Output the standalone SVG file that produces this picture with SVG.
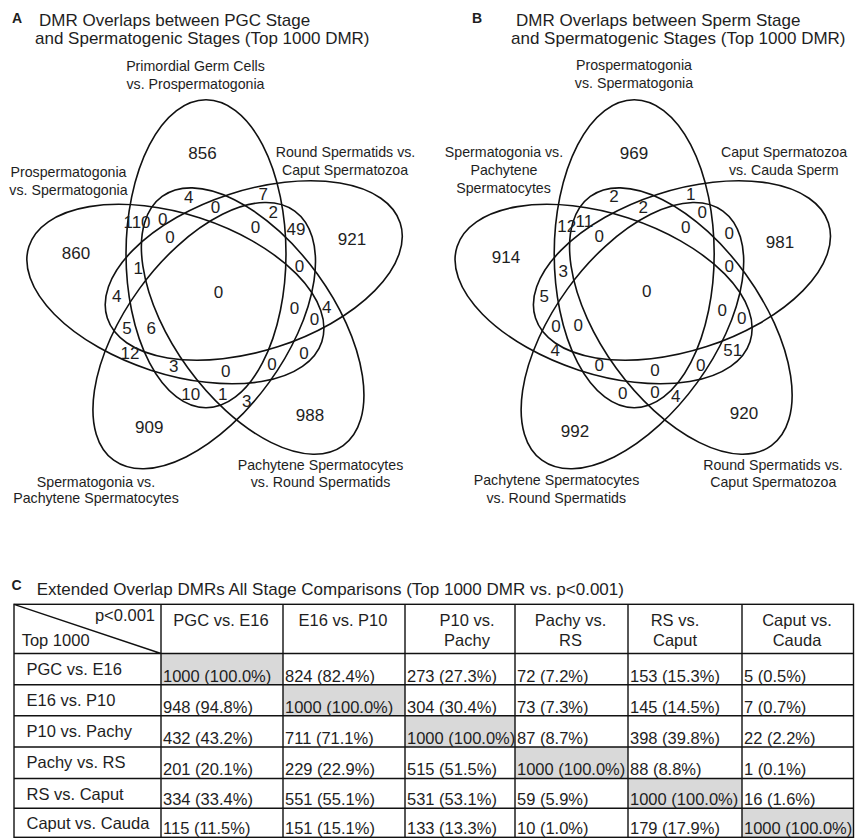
<svg xmlns="http://www.w3.org/2000/svg" width="857" height="838" viewBox="0 0 857 838">
<style>
text{font-family:"Liberation Sans",Arial,sans-serif;fill:#1e1e1e}
.pl{font-size:14px;font-weight:bold}
.ti{font-size:17px}
.lab{font-size:14.2px;text-anchor:middle}
.n{font-size:17px;text-anchor:middle}
.el{fill:none;stroke:#111;stroke-width:1.6}
.tb{font-size:16.5px}
.c{text-anchor:middle}
.gl{stroke:#111;stroke-width:1.4;fill:none}
.gr{fill:#d9d9d9}
</style>
<defs>
<ellipse id="e" cx="-12.4" cy="-41.2" rx="80" ry="154"/>
</defs>

<!-- Panel A -->
<g id="panelA-title">
<text class="pl" x="12" y="23">A</text>
<text class="ti" x="39" y="26">DMR Overlaps between PGC Stage</text>
<text class="ti" x="35" y="44">and Spermatogenic Stages (Top 1000 DMR)</text>
</g>
<g transform="translate(218.4,295)">
<g id="A-set1"><use href="#e" class="el"/></g>
<g id="A-set2"><use href="#e" class="el" transform="rotate(72)"/></g>
<g id="A-set3"><use href="#e" class="el" transform="rotate(144)"/></g>
<g id="A-set4"><use href="#e" class="el" transform="rotate(216)"/></g>
<g id="A-set5"><use href="#e" class="el" transform="rotate(288)"/></g>
</g>
<g id="A-labels">
<text class="lab" x="195.5" y="70.5">Primordial Germ Cells</text>
<text class="lab" x="195.5" y="88.5">vs. Prospermatogonia</text>
<text class="lab" x="345.5" y="156.7">Round Spermatids vs.</text>
<text class="lab" x="345" y="175">Caput Spermatozoa</text>
<text class="lab" x="68.5" y="176.7">Prospermatogonia</text>
<text class="lab" x="68.5" y="195">vs. Spermatogonia</text>
<text class="lab" x="96" y="486.7">Spermatogonia vs.</text>
<text class="lab" x="96" y="503">Pachytene Spermatocytes</text>
<text class="lab" x="320.5" y="470">Pachytene Spermatocytes</text>
<text class="lab" x="320.5" y="486.7">vs. Round Spermatids</text>
</g>
<g id="A-counts">
<text class="n" x="202.5" y="159.3">856</text>
<text class="n" x="352" y="244.5">921</text>
<text class="n" x="76" y="259">860</text>
<text class="n" x="149.3" y="433">909</text>
<text class="n" x="310" y="421.2">988</text>
<text class="n" x="188.7" y="203.3">4</text>
<text class="n" x="263.3" y="199.5">7</text>
<text class="n" x="215.5" y="213">0</text>
<text class="n" x="273.3" y="217.5">2</text>
<text class="n" x="137" y="227.5">110</text>
<text class="n" x="162.8" y="225">0</text>
<text class="n" x="170" y="243.3">0</text>
<text class="n" x="255.5" y="233.3">0</text>
<text class="n" x="296" y="235">49</text>
<text class="n" x="138.3" y="274">1</text>
<text class="n" x="299.6" y="271.7">0</text>
<text class="n" x="218.5" y="298">0</text>
<text class="n" x="116.7" y="302">4</text>
<text class="n" x="294.6" y="313.5">0</text>
<text class="n" x="326.7" y="312.5">4</text>
<text class="n" x="314.5" y="324.5">0</text>
<text class="n" x="127" y="333.7">5</text>
<text class="n" x="151.3" y="333.7">6</text>
<text class="n" x="130" y="358.7">12</text>
<text class="n" x="304" y="358.7">0</text>
<text class="n" x="173.7" y="372">3</text>
<text class="n" x="225.7" y="377.3">0</text>
<text class="n" x="272" y="370">0</text>
<text class="n" x="190.7" y="400.3">10</text>
<text class="n" x="222.8" y="400.3">1</text>
<text class="n" x="246.7" y="406.7">3</text>
</g>

<!-- Panel B -->
<g id="panelB-title">
<text class="pl" x="472" y="23">B</text>
<text class="ti" x="516" y="26">DMR Overlaps between Sperm Stage</text>
<text class="ti" x="511" y="44">and Spermatogenic Stages (Top 1000 DMR)</text>
</g>
<g transform="translate(646.6,295)">
<g id="B-set1"><use href="#e" class="el"/></g>
<g id="B-set2"><use href="#e" class="el" transform="rotate(72)"/></g>
<g id="B-set3"><use href="#e" class="el" transform="rotate(144)"/></g>
<g id="B-set4"><use href="#e" class="el" transform="rotate(216)"/></g>
<g id="B-set5"><use href="#e" class="el" transform="rotate(288)"/></g>
</g>
<g id="B-labels">
<text class="lab" x="634" y="70">Prospermatogonia</text>
<text class="lab" x="634" y="88.3">vs. Spermatogonia</text>
<text class="lab" x="504" y="156.7">Spermatogonia vs.</text>
<text class="lab" x="504" y="175">Pachytene</text>
<text class="lab" x="503.5" y="193.3">Spermatocytes</text>
<text class="lab" x="784" y="156.7">Caput Spermatozoa</text>
<text class="lab" x="783.7" y="175">vs. Cauda Sperm</text>
<text class="lab" x="556.5" y="485">Pachytene Spermatocytes</text>
<text class="lab" x="556.3" y="502.7">vs. Round Spermatids</text>
<text class="lab" x="773" y="470">Round Spermatids vs.</text>
<text class="lab" x="773.3" y="487.3">Caput Spermatozoa</text>
</g>
<g id="B-counts">
<text class="n" x="634" y="159.3">969</text>
<text class="n" x="506" y="263.3">914</text>
<text class="n" x="780" y="248.3">981</text>
<text class="n" x="575" y="436.7">992</text>
<text class="n" x="744" y="419.3">920</text>
<text class="n" x="614" y="201.7">2</text>
<text class="n" x="690.7" y="200">1</text>
<text class="n" x="643.3" y="213.3">2</text>
<text class="n" x="702.3" y="218.3">0</text>
<text class="n" x="566.7" y="231.7">12</text>
<text class="n" x="584.3" y="226.7">11</text>
<text class="n" x="599.3" y="241.7">0</text>
<text class="n" x="685.7" y="233.3">0</text>
<text class="n" x="729.3" y="239.3">0</text>
<text class="n" x="563.3" y="276.7">3</text>
<text class="n" x="729.3" y="271.7">0</text>
<text class="n" x="646.7" y="296.7">0</text>
<text class="n" x="544.3" y="302.3">5</text>
<text class="n" x="722.3" y="315.7">0</text>
<text class="n" x="741.7" y="324.3">0</text>
<text class="n" x="556" y="331.7">0</text>
<text class="n" x="578.3" y="330.7">0</text>
<text class="n" x="555.3" y="356">4</text>
<text class="n" x="732.7" y="356">51</text>
<text class="n" x="599.3" y="370.7">0</text>
<text class="n" x="655" y="375.7">0</text>
<text class="n" x="700.7" y="370.7">0</text>
<text class="n" x="622.7" y="399">0</text>
<text class="n" x="655" y="398.3">0</text>
<text class="n" x="675.7" y="402.3">4</text>
</g>

<!-- Panel C -->
<g id="panelC-title">
<text class="pl" x="11.5" y="589.5">C</text>
<text class="ti" x="36.7" y="594.5">Extended Overlap DMRs All Stage Comparisons (Top 1000 DMR vs. p&lt;0.001)</text>
</g>
<g id="table">
<g id="table-shading">
<rect class="gr" x="161" y="653.5" width="122" height="31.2"/>
<rect class="gr" x="283" y="684.7" width="122" height="31.1"/>
<rect class="gr" x="405" y="715.8" width="110" height="31.2"/>
<rect class="gr" x="515" y="747" width="113" height="31.5"/>
<rect class="gr" x="628" y="778.5" width="114" height="29.8"/>
<rect class="gr" x="742" y="808.3" width="111.5" height="29"/>
</g>
<g id="table-grid">
<rect class="gl" x="14" y="604.3" width="839.5" height="233"/>
<path class="gl" d="M14,653.5H853.5M14,684.7H853.5M14,715.8H853.5M14,747H853.5M14,778.5H853.5M14,808.3H853.5M161,604.3V837.3M283,604.3V837.3M405,604.3V837.3M515,604.3V837.3M628,604.3V837.3M742,604.3V837.3M14,604.3L161,653.5"/>
</g>
<g id="table-header" class="tb">
<text class="tb" x="155" y="621" text-anchor="end">p&lt;0.001</text>
<text class="tb" x="21.7" y="646">Top 1000</text>
<text class="tb c" x="221" y="626">PGC vs. E16</text>
<text class="tb c" x="343" y="626">E16 vs. P10</text>
<text class="tb c" x="467" y="625.5">P10 vs.</text>
<text class="tb c" x="467" y="645.5">Pachy</text>
<text class="tb c" x="570.5" y="625.5">Pachy vs.</text>
<text class="tb c" x="570.5" y="645.5">RS</text>
<text class="tb c" x="675" y="625.5">RS vs.</text>
<text class="tb c" x="675" y="645.5">Caput</text>
<text class="tb c" x="797" y="625.5">Caput vs.</text>
<text class="tb c" x="797" y="645.5">Cauda</text>
</g>
<g id="table-rows">
<text class="tb" x="26.5" y="674.5">PGC vs. E16</text>
<text class="tb" x="26.5" y="705.7">E16 vs. P10</text>
<text class="tb" x="26.5" y="736.8">P10 vs. Pachy</text>
<text class="tb" x="26.5" y="768">Pachy vs. RS</text>
<text class="tb" x="26.5" y="799.5">RS vs. Caput</text>
<text class="tb" x="26.5" y="829.3">Caput vs. Cauda</text>
</g>
<g id="table-values" class="tb">
<text class="tb" x="163" y="681.5">1000 (100.0%)</text>
<text class="tb" x="285" y="681.5">824 (82.4%)</text>
<text class="tb" x="407" y="681.5">273 (27.3%)</text>
<text class="tb" x="517" y="681.5">72 (7.2%)</text>
<text class="tb" x="630" y="681.5">153 (15.3%)</text>
<text class="tb" x="744" y="681.5">5 (0.5%)</text>

<text class="tb" x="163" y="712.6">948 (94.8%)</text>
<text class="tb" x="285" y="712.6">1000 (100.0%)</text>
<text class="tb" x="407" y="712.6">304 (30.4%)</text>
<text class="tb" x="517" y="712.6">73 (7.3%)</text>
<text class="tb" x="630" y="712.6">145 (14.5%)</text>
<text class="tb" x="744" y="712.6">7 (0.7%)</text>

<text class="tb" x="163" y="743.8">432 (43.2%)</text>
<text class="tb" x="285" y="743.8">711 (71.1%)</text>
<text class="tb" x="407" y="743.8">1000 (100.0%)</text>
<text class="tb" x="517" y="743.8">87 (8.7%)</text>
<text class="tb" x="630" y="743.8">398 (39.8%)</text>
<text class="tb" x="744" y="743.8">22 (2.2%)</text>

<text class="tb" x="163" y="775">201 (20.1%)</text>
<text class="tb" x="285" y="775">229 (22.9%)</text>
<text class="tb" x="407" y="775">515 (51.5%)</text>
<text class="tb" x="517" y="775">1000 (100.0%)</text>
<text class="tb" x="630" y="775">88 (8.8%)</text>
<text class="tb" x="744" y="775">1 (0.1%)</text>

<text class="tb" x="163" y="805">334 (33.4%)</text>
<text class="tb" x="285" y="805">551 (55.1%)</text>
<text class="tb" x="407" y="805">531 (53.1%)</text>
<text class="tb" x="517" y="805">59 (5.9%)</text>
<text class="tb" x="630" y="805">1000 (100.0%)</text>
<text class="tb" x="744" y="805">16 (1.6%)</text>

<text class="tb" x="163" y="834.3">115 (11.5%)</text>
<text class="tb" x="285" y="834.3">151 (15.1%)</text>
<text class="tb" x="407" y="834.3">133 (13.3%)</text>
<text class="tb" x="517" y="834.3">10 (1.0%)</text>
<text class="tb" x="630" y="834.3">179 (17.9%)</text>
<text class="tb" x="744" y="834.3">1000 (100.0%)</text>
</g>
</g>
</svg>
